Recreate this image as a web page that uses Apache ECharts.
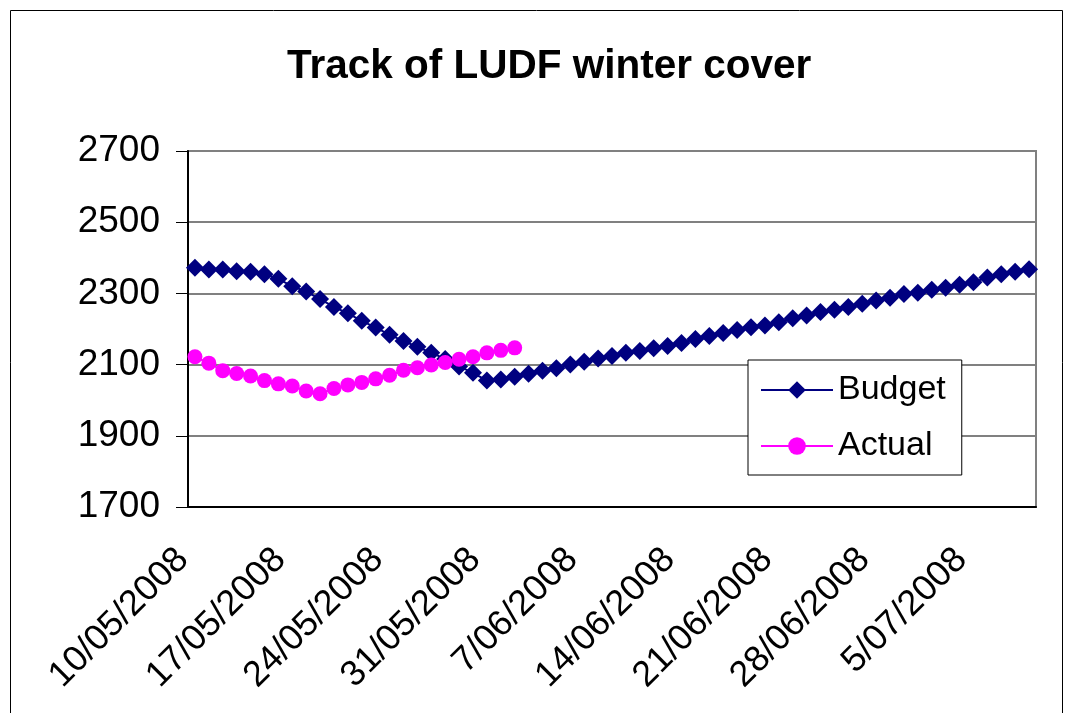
<!DOCTYPE html>
<html>
<head>
<meta charset="utf-8">
<script src="https://cdn.jsdelivr.net/npm/echarts@6/dist/echarts.min.js"></script>
<style>
  html, body { margin: 0; padding: 0; background: #fff; }
  #chart { width: 1072px; height: 713px; }
</style>
</head>
<body>
<div id="chart"></div>
<script>
// daily categories, 10 May - 9 Jul 2008
var days = [
  '10/05/2008','11/05/2008','12/05/2008','13/05/2008','14/05/2008','15/05/2008','16/05/2008',
  '17/05/2008','18/05/2008','19/05/2008','20/05/2008','21/05/2008','22/05/2008','23/05/2008',
  '24/05/2008','25/05/2008','26/05/2008','27/05/2008','28/05/2008','29/05/2008','30/05/2008',
  '31/05/2008','1/06/2008','2/06/2008','3/06/2008','4/06/2008','5/06/2008','6/06/2008',
  '7/06/2008','8/06/2008','9/06/2008','10/06/2008','11/06/2008','12/06/2008','13/06/2008',
  '14/06/2008','15/06/2008','16/06/2008','17/06/2008','18/06/2008','19/06/2008','20/06/2008',
  '21/06/2008','22/06/2008','23/06/2008','24/06/2008','25/06/2008','26/06/2008','27/06/2008',
  '28/06/2008','29/06/2008','30/06/2008','1/07/2008','2/07/2008','3/07/2008','4/07/2008',
  '5/07/2008','6/07/2008','7/07/2008','8/07/2008','9/07/2008'
];

var budget = [
  2372, 2367, 2367, 2362, 2361, 2354, 2341, 2320, 2305, 2284,
  2262, 2244, 2223, 2204, 2184, 2166, 2150, 2133, 2116, 2095,
  2077, 2055, 2058, 2066, 2074, 2083, 2090, 2100, 2108, 2117,
  2124, 2133, 2138, 2146, 2152, 2161, 2172, 2180, 2189, 2197,
  2205, 2210, 2219, 2230, 2238, 2248, 2254, 2262, 2271, 2280,
  2288, 2298, 2302, 2310, 2316, 2324, 2331, 2345, 2354, 2361,
  2368
];

var actual = [
  2122, 2104, 2083, 2075, 2068, 2055, 2046, 2040, 2026, 2018,
  2033, 2043, 2050, 2060, 2070, 2084, 2091, 2099, 2106, 2115,
  2122, 2133, 2140, 2147
];

var yMin = 1700, yMax = 2700, yStep = 200;

var font = 'Liberation Sans, Arial, sans-serif';
var chart = echarts.init(document.getElementById('chart'));

var option = {
  backgroundColor: '#fff',
  animation: false,
  title: {
    text: 'Track of LUDF winter cover',
    left: 282,
    top: 41,
    textStyle: { fontFamily: font, fontSize: 40.5, fontWeight: 'bold', color: '#000' }
  },
  graphic: [{
    type: 'rect',
    shape: { x: 10.5, y: 10.5, width: 1052, height: 720 },
    style: { fill: 'none', stroke: '#000', lineWidth: 1 },
    silent: true
  }],
  grid: {
    left: 188, top: 151, width: 848, height: 356,
    containLabel: false,
    outerBoundsMode: 'none',
    show: true,
    borderColor: '#808080',
    borderWidth: 2,
    backgroundColor: '#fff'
  },
  legend: {
    orient: 'vertical',
    left: 748,
    top: 360,
    padding: [13, 16, 12, 12],
    itemGap: 22,
    itemWidth: 72,
    itemHeight: 22,
    backgroundColor: '#fff',
    borderColor: '#000',
    borderWidth: 1,
    textStyle: { fontFamily: font, fontSize: 34, color: '#000' },
    data: ['Budget', 'Actual']
  },
  xAxis: {
    type: 'category',
    data: days,
    boundaryGap: true,
    axisLine: { lineStyle: { color: '#000', width: 2 } },
    axisTick: { interval: 6, length: 11, lineStyle: { color: '#000', width: 1 } },
    axisLabel: {
      interval: 6,
      rotate: 45,
      margin: 35,
      padding: [0, 17, 0, 0],
      fontFamily: font,
      fontSize: 36,
      color: '#000'
    },
    splitLine: { show: false }
  },
  yAxis: {
    type: 'value',
    min: yMin,
    max: yMax,
    interval: yStep,
    axisLine: { show: true, lineStyle: { color: '#000', width: 2 } },
    axisTick: { show: true, length: 12, lineStyle: { color: '#000', width: 1 } },
    axisLabel: {
      margin: 28,
      formatter: function (v) { return String(v); },
      fontFamily: font,
      fontSize: 37,
      color: '#000'
    },
    splitLine: { lineStyle: { color: '#808080', width: 2 } }
  },
  series: [
    {
      name: 'Budget',
      type: 'line',
      data: budget,
      symbol: 'diamond',
      symbolSize: 18,
      showAllSymbol: true,
      color: '#000080',
      lineStyle: { color: '#000080', width: 2 },
      itemStyle: { color: '#000080' }
    },
    {
      name: 'Actual',
      type: 'line',
      data: actual,
      symbol: 'circle',
      symbolSize: 15,
      showAllSymbol: true,
      color: '#ff00ff',
      lineStyle: { color: '#ff00ff', width: 2 },
      itemStyle: { color: '#ff00ff' }
    }
  ]
};

chart.setOption(option);
</script>
</body>
</html>
